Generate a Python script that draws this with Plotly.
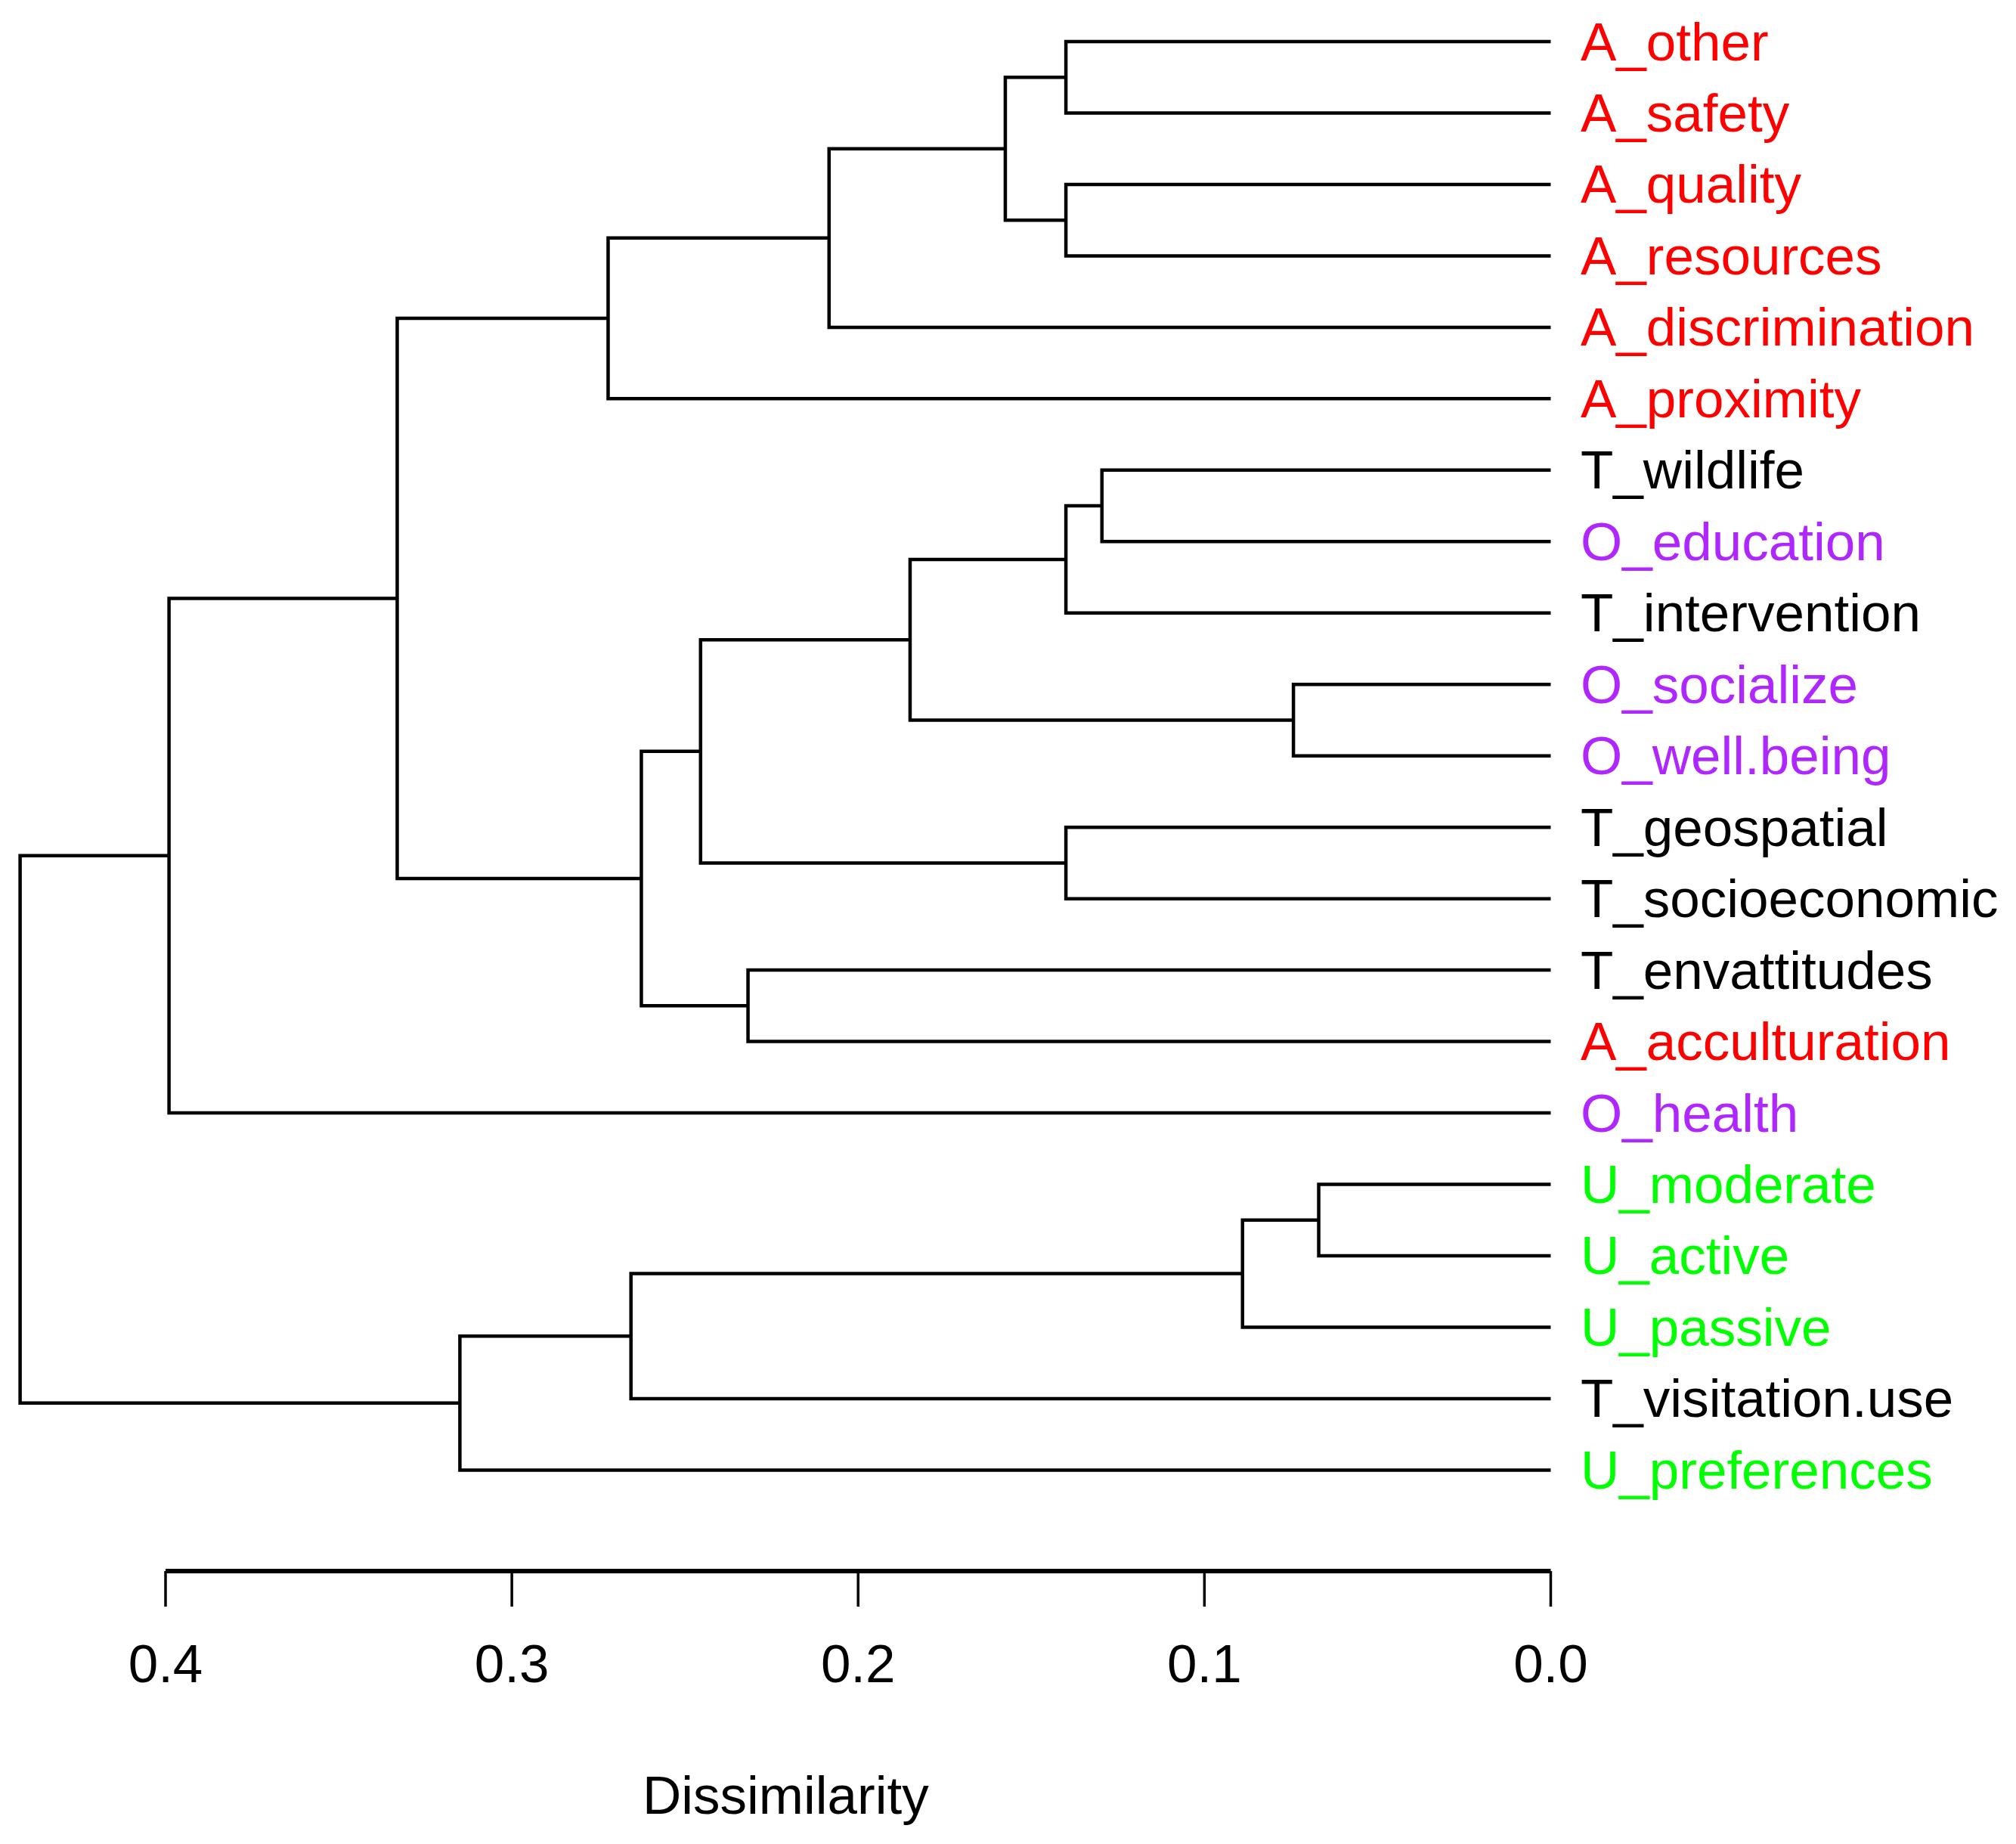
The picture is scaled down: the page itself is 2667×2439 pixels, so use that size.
import plotly.graph_objects as go

# ---------------- data ----------------
LEAVES = ["A_other", "A_safety", "A_quality", "A_resources", "A_discrimination",
          "A_proximity", "T_wildlife", "O_education", "T_intervention", "O_socialize",
          "O_well.being", "T_geospatial", "T_socioeconomic", "T_envattitudes",
          "A_acculturation", "O_health", "U_moderate", "U_active", "U_passive",
          "T_visitation.use", "U_preferences"]

# R hclust-style merge table: negative = leaf (1-based), positive = earlier merge (1-based)
MERGE_LEFT = [-1, -3, 1, 3, 4, -7, 6, -10, 7, -12, 9, -14, 11, 5, 14, -17, 16, 17, 18, 15]
MERGE_RIGHT = [-2, -4, 2, -5, -6, -8, -9, -11, 8, -13, 10, -15, 12, 13, -16, -18, -19, -20, -21, 19]
MERGE_HEIGHT = [0.140, 0.140, 0.1575, 0.2084, 0.2722, 0.1296, 0.140, 0.0743, 0.185, 0.140,
                0.2455, 0.2318, 0.2626, 0.3331, 0.399, 0.067, 0.089, 0.2656, 0.315, 0.442]

TICK_VALUES = [0.4, 0.3, 0.2, 0.1, 0.0]
TICK_LABELS = ["0.4", "0.3", "0.2", "0.1", "0.0"]
X_TITLE = "Dissimilarity"

# ---------------- style / layout ----------------
GROUP_COLORS = {"A": "#FF0000", "O": "#B026FF", "U": "#00FF00", "T": "#000000"}
FONT = "Liberation Sans, Arial, sans-serif"
FSIZE = 71
W, H = 2667, 2439
PAGE_OFFSET = 8            # default body margin of the html page
PX_PER_UNIT = 4581.2       # horizontal pixels per unit of dissimilarity
PX_PER_LEAF = 94.47        # vertical pixels between leaves
X_04_PX = 219              # on-screen pixel of the 0.4 tick
LEAF0_PX = 55              # on-screen pixel of the first leaf

X_R0 = 0.4 + (X_04_PX - PAGE_OFFSET) / PX_PER_UNIT
X_R1 = X_R0 - W / PX_PER_UNIT
Y_TOP = -(LEAF0_PX - PAGE_OFFSET) / PX_PER_LEAF
Y_BOTTOM = Y_TOP + H / PX_PER_LEAF


def ypix(p):
    """on-screen vertical pixel -> leaf units"""
    return Y_TOP + (p - PAGE_OFFSET) / PX_PER_LEAF


AXIS_Y = ypix(2078)
TICK_END_Y = ypix(2125)
TICK_LABEL_Y = ypix(2207)
TITLE_Y = ypix(2374)
TITLE_X = 0.221

# ---------------- build dendrogram segments ----------------
leaf_pos = {i + 1: float(i) for i in range(len(LEAVES))}
node_y = {}
node_h = {}


def child_info(c):
    if c < 0:
        return leaf_pos[-c], 0.0
    return node_y[c], node_h[c]


xs, ys = [], []
for k, (l, r, h) in enumerate(zip(MERGE_LEFT, MERGE_RIGHT, MERGE_HEIGHT), start=1):
    yl, hl = child_info(l)
    yr, hr = child_info(r)
    xs += [hl, h, h, hr, None]
    ys += [yl, yl, yr, yr, None]
    node_y[k] = (yl + yr) / 2.0
    node_h[k] = h

fig = go.Figure()
fig.add_trace(go.Scatter(x=xs, y=ys, mode="lines",
                         line=dict(color="black", width=4.5),
                         hoverinfo="skip", showlegend=False))

# distance axis (only spans tick range, like R's axis)
fig.add_trace(go.Scatter(x=[max(TICK_VALUES), min(TICK_VALUES)], y=[AXIS_Y, AXIS_Y],
                         mode="lines", line=dict(color="black", width=6),
                         hoverinfo="skip", showlegend=False))
tx, ty = [], []
for v in TICK_VALUES:
    tx += [v, v, None]
    ty += [AXIS_Y, TICK_END_Y, None]
fig.add_trace(go.Scatter(x=tx, y=ty, mode="lines", line=dict(color="black", width=3.5),
                         hoverinfo="skip", showlegend=False))
fig.add_trace(go.Scatter(x=TICK_VALUES, y=[TICK_LABEL_Y] * len(TICK_VALUES),
                         mode="text", text=TICK_LABELS, textposition="middle center",
                         textfont=dict(family=FONT, size=FSIZE, color="black"),
                         hoverinfo="skip", showlegend=False))

annotations = []
for i, name in enumerate(LEAVES):
    annotations.append(dict(x=0.0, y=leaf_pos[i + 1], xref="x", yref="y", text=name,
                            showarrow=False, xanchor="left", yanchor="middle",
                            xshift=38,
                            font=dict(family=FONT, size=FSIZE,
                                      color=GROUP_COLORS[name[0]])))
annotations.append(dict(x=TITLE_X, y=TITLE_Y, xref="x", yref="y", text=X_TITLE,
                        showarrow=False, xanchor="center", yanchor="middle",
                        font=dict(family=FONT, size=FSIZE, color="black")))

fig.update_layout(
    width=W, height=H,
    margin=dict(l=0, r=0, t=0, b=0),
    paper_bgcolor="white", plot_bgcolor="white",
    xaxis=dict(range=[X_R0, X_R1], visible=False, fixedrange=True),
    yaxis=dict(range=[Y_BOTTOM, Y_TOP], visible=False, fixedrange=True),
    annotations=annotations,
    showlegend=False,
)

fig.write_html("out.html")
